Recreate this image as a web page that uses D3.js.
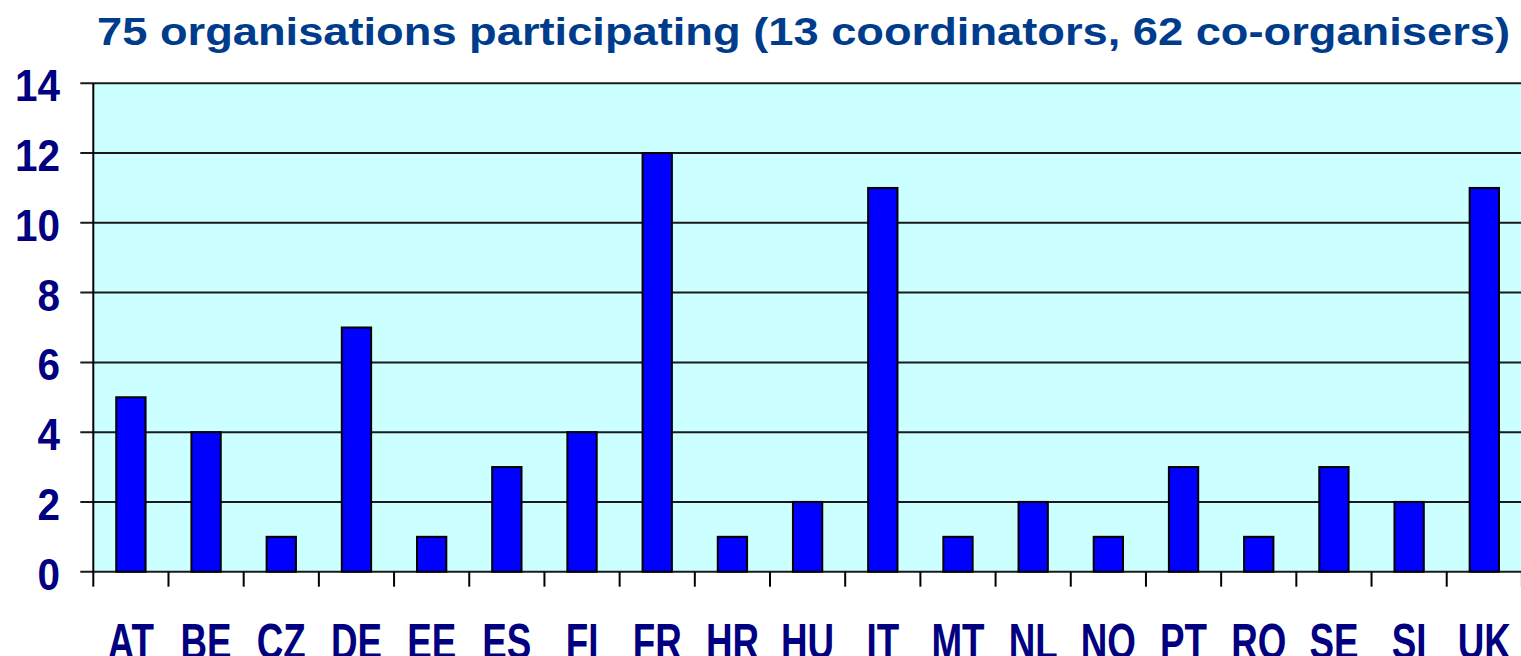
<!DOCTYPE html>
<html>
<head>
<meta charset="utf-8">
<script src="https://cdn.jsdelivr.net/npm/d3@7"></script>
<style>
  body { margin: 0; background: #ffffff; }
  svg { display: block; }
</style>
</head>
<body>
<div id="chart"></div>
<script>
// data
let countries = ["AT","BE","CZ","DE","EE","ES","FI","FR","HR","HU","IT","MT","NL","NO","PT","RO","SE","SI","UK"];
let orgCount  = [5, 4, 1, 7, 1, 3, 4, 12, 1, 2, 11, 1, 2, 1, 3, 1, 3, 2, 11];
let yTicks    = [0, 2, 4, 6, 8, 10, 12, 14];
let titleText = "75 organisations participating (13 coordinators, 62 co-organisers)";

let W = 1521, H = 656;
let plotL = 93.3, plotT = 83.3, plotB = 571.7;
let plotR = plotL + 19 * 75.19;   // right edge runs off the canvas

let labelClr = "#000080";
let titleClr = "#003c8c";

let svg = d3.select("#chart")
            .append("svg")
                .attr("width",  W)
                .attr("height", H);

let x = d3.scaleBand()
            .domain(countries)
            .range([plotL, plotR])
            .paddingInner(0.61)
            .paddingOuter(0.305);

let y = d3.scaleLinear()
            .domain([0, 14])
            .range([plotB, plotT]);

// plot background
svg.append("rect")
    .attr("x", plotL)
    .attr("y", plotT)
    .attr("width", plotR - plotL)
    .attr("height", plotB - plotT)
    .attr("fill", "#ccffff");

// gridlines + y tick marks (ticks stick out left of the axis)
svg.append("g")
    .selectAll("line")
    .data(yTicks)
    .enter()
        .append("line")
            .attr("x1", plotL - 13)
            .attr("x2", plotR)
            .attr("y1", d => y(d))
            .attr("y2", d => y(d))
            .attr("stroke", "#1a1a1a")
            .attr("stroke-width", 2);

// y labels
svg.append("g")
    .selectAll("text")
    .data(yTicks)
    .enter()
        .append("text")
            .attr("transform", d => "translate(60," + (y(d) + 18) + ") scale(0.92,1)")
            .attr("text-anchor", "end")
            .style("font-family", "'Liberation Sans', Arial, sans-serif")
            .style("font-weight", "bold")
            .style("font-size", "44px")
            .attr("fill", labelClr)
            .text(d => d);

// bars
svg.append("g")
    .selectAll("rect")
    .data(countries)
    .enter()
        .append("rect")
            .attr("x", d => x(d))
            .attr("y", (d, i) => y(orgCount[i]))
            .attr("width", x.bandwidth())
            .attr("height", (d, i) => y(0) - y(orgCount[i]))
            .attr("fill", "#0000ff")
            .attr("stroke", "#000000")
            .attr("stroke-width", 2);

// left axis line
svg.append("line")
    .attr("x1", plotL).attr("x2", plotL)
    .attr("y1", plotT).attr("y2", plotB)
    .attr("stroke", "#000000")
    .attr("stroke-width", 2);

// x tick marks on category boundaries
let boundaries = d3.range(countries.length + 1).map(i => plotL + i * x.step());
svg.append("g")
    .selectAll("line")
    .data(boundaries)
    .enter()
        .append("line")
            .attr("x1", d => d).attr("x2", d => d)
            .attr("y1", plotB).attr("y2", plotB + 15)
            .attr("stroke", "#000000")
            .attr("stroke-width", 2);

// x labels
svg.append("g")
    .selectAll("text")
    .data(countries)
    .enter()
        .append("text")
            .attr("transform", d => "translate(" + (x(d) + x.bandwidth() / 2) + ",658.5) scale(0.735,1)")
            .attr("text-anchor", "middle")
            .style("font-family", "'Liberation Sans', Arial, sans-serif")
            .style("font-weight", "bold")
            .style("font-size", "50px")
            .attr("fill", labelClr)
            .text(d => d);

// title
svg.append("text")
    .attr("x", 97)
    .attr("y", 45)
    .attr("textLength", 1413)
    .attr("lengthAdjust", "spacingAndGlyphs")
    .style("font-family", "'Liberation Sans', Arial, sans-serif")
    .style("font-weight", "bold")
    .style("font-size", "39px")
    .attr("fill", titleClr)
    .text(titleText);
</script>
</body>
</html>
